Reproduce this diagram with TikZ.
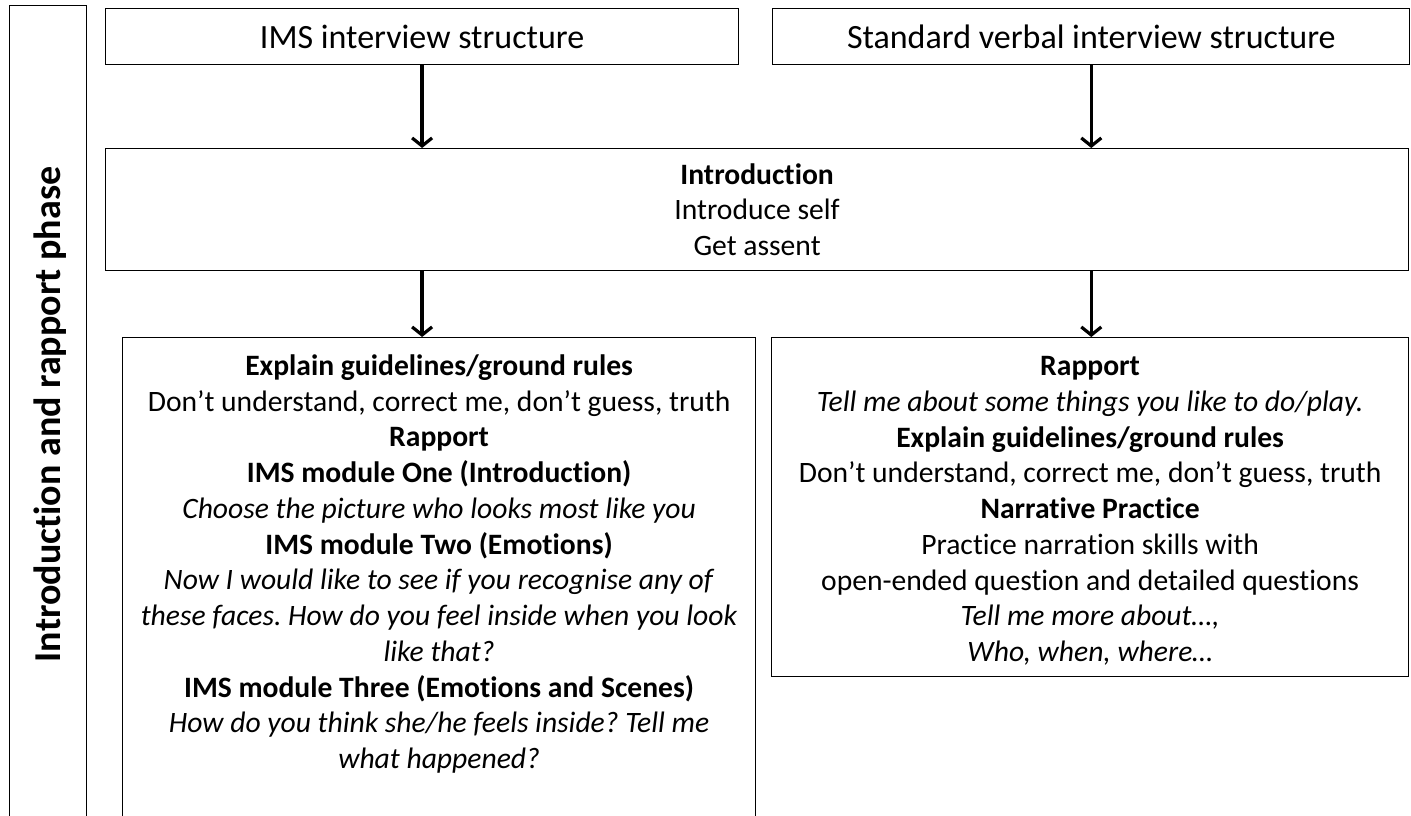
\documentclass[tikz,border=0pt]{standalone}
\usepackage{fontspec}
\setmainfont{Carlito}[Ligatures=NoCommon]
\usetikzlibrary{positioning, arrows.meta}
\frenchspacing

\tikzset{
	box/.style={draw, line width=1.2pt, inner sep=0pt, align=center},
	bodytext/.style={align=center, font=\fontsize{29.6}{35.75}\selectfont},
	titletext/.style={font=\fontsize{34}{40}\selectfont},
	flow/.style={line width=3.5pt, -{Straight Barb[length=8pt,width=20pt,line width=3.2pt]}},
}

\begin{document}
\begin{tikzpicture}[x=1pt, y=-1pt]
	\useasboundingbox (0,0) rectangle (1411,816);
	\node[box, minimum width=77pt, minimum height=830pt, anchor=north west] (phase) at (9,5) {};
	\node[rotate=90, anchor=base, font=\fontsize{38}{44}\selectfont\bfseries] (phaselabel) at (60,414.5) {Introduction and rapport phase};
	\node[box, titletext, minimum width=633pt, minimum height=56pt, anchor=north west] (ims) at (105,8) {IMS interview structure};
	\node[box, titletext, minimum width=637pt, minimum height=56pt, right=33pt of ims] (std) {Standard verbal interview structure};
	\node[box, bodytext, minimum width=1303pt, minimum height=122pt, anchor=north west] (intro) at (105,148) {\textbf{Introduction}\\Introduce self\\Get assent};
	\node[box, minimum width=633pt, minimum height=500pt, anchor=north west] (imsbox) at (122,337) {};
	\node[bodytext, anchor=north, yshift=-14pt] (imstext) at (imsbox.north) {\textbf{Explain guidelines/ground rules}\\
		Don’t understand, correct me, don’t guess, truth\\
		\textbf{Rapport}\\
		\textbf{IMS module One (Introduction)}\\
		\textit{Choose the picture who looks most like you}\\
		\textbf{IMS module Two (Emotions)}\\
		\textit{Now I would like to see if you recognise any of}\\
		\textit{these faces. How do you feel inside when you look}\\
		\textit{like that?}\\
		\textbf{IMS module Three (Emotions and Scenes)}\\
		\textit{How do you think she/he feels inside? Tell me}\\
		\textit{what happened?}};
	\node[box, minimum width=637pt, minimum height=339pt, anchor=north west] (stdbox) at (771,337) {};
	\node[bodytext, anchor=north, yshift=-16pt] (stdtext) at (stdbox.north) {\textbf{Rapport}\\
		\textit{Tell me about some things you like to do/play.}\\
		\textbf{Explain guidelines/ground rules}\\
		Don’t understand, correct me, don’t guess, truth\\
		\textbf{Narrative Practice}\\
		Practice narration skills with\\
		open-ended question and detailed questions\\
		\textit{Tell me more about…,}\\
		\textit{Who, when, where…}};
	\draw[flow] (ims.south) -- (ims.south |- intro.north);
	\draw[flow] (std.south) -- (std.south |- intro.north);
	\draw[flow] (intro.south -| ims.south) -- (imsbox.north -| ims.south);
	\draw[flow] (intro.south -| std.south) -- (stdbox.north -| std.south);
\end{tikzpicture}
\end{document}
